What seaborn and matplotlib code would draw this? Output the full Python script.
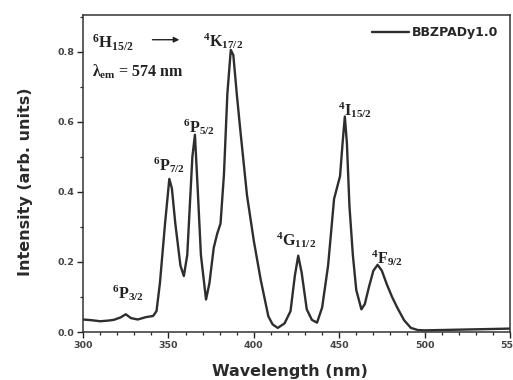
import matplotlib
matplotlib.use("Agg")
import matplotlib.pyplot as plt
from matplotlib.ticker import MultipleLocator
import seaborn as sns
import pandas as pd

wavelength = [300, 305, 310, 315, 318, 322, 325, 328, 332, 337, 341, 343, 345, 348,
              350.5, 352, 354, 357, 359, 361, 362.5, 364, 365.5, 367, 369, 372, 374,
              376.5, 378.5, 380.5, 382.5, 384.5, 386.5, 388, 390, 392, 396, 400, 404,
              408.5, 411, 414, 418, 421.5, 424, 426, 428, 431, 434, 437, 440, 443.5,
              447, 450.5, 452, 453.3, 454.5, 456, 458, 460, 463, 465, 467.5, 470,
              472.5, 475, 478, 481, 484, 488, 492, 496, 500, 510, 520, 530, 540, 550]
intensity = [0.036, 0.034, 0.031, 0.033, 0.035, 0.042, 0.051, 0.040, 0.036, 0.043,
             0.046, 0.060, 0.14, 0.31, 0.437, 0.41, 0.31, 0.19, 0.16, 0.22, 0.36,
             0.50, 0.563, 0.42, 0.22, 0.093, 0.14, 0.24, 0.28, 0.31, 0.45, 0.68,
             0.805, 0.79, 0.68, 0.58, 0.39, 0.26, 0.15, 0.045, 0.022, 0.012, 0.025,
             0.06, 0.16, 0.218, 0.17, 0.065, 0.035, 0.027, 0.07, 0.19, 0.38, 0.445,
             0.54, 0.615, 0.54, 0.36, 0.22, 0.12, 0.065, 0.08, 0.13, 0.175, 0.192,
             0.175, 0.135, 0.10, 0.07, 0.034, 0.012, 0.006, 0.005, 0.006, 0.007,
             0.008, 0.009, 0.010]
series_name = "BBZPADy1.0"

peak_labels = [r"$^{6}\mathrm{P}_{3/2}$", r"$^{6}\mathrm{P}_{7/2}$", r"$^{6}\mathrm{P}_{5/2}$",
               r"$^{4}\mathrm{K}_{17/2}$", r"$^{4}\mathrm{G}_{11/2}$", r"$^{4}\mathrm{I}_{15/2}$",
               r"$^{4}\mathrm{F}_{9/2}$"]
label_x = [326, 350, 368, 382, 425, 459, 478]
label_y = [0.11, 0.477, 0.586, 0.83, 0.263, 0.634, 0.211]

sns.set_theme(style="ticks")
plt.rcParams["mathtext.fontset"] = "custom"
plt.rcParams["mathtext.rm"] = "Liberation Serif:bold"
plt.rcParams["mathtext.it"] = "Liberation Serif:bold"
plt.rcParams["mathtext.bf"] = "Liberation Serif:bold"
plt.rcParams["font.family"] = ["DejaVu Sans"]

df = pd.DataFrame({"Wavelength": wavelength, "Intensity": intensity})

fig = plt.figure(figsize=(5.13, 3.8), dpi=100)
ax = fig.add_axes([0.162, 0.126, 0.832, 0.835])
sns.lineplot(data=df, x="Wavelength", y="Intensity", ax=ax, color="#2e2e2e",
             linewidth=1.7, label=series_name)

ax.set_xlim(300, 550)
ax.set_ylim(0, 0.905)
ax.xaxis.set_minor_locator(MultipleLocator(10))
ax.yaxis.set_minor_locator(MultipleLocator(0.1))
ax.set_xticks([300, 350, 400, 450, 500, 550])
ax.set_xticklabels(["300", "350", "400", "450", "500", "550"])
ax.set_yticks([0, 0.2, 0.4, 0.6, 0.8])
ax.set_yticklabels(["0.0", "0.2", "0.4", "0.6", "0.8"])
ax.tick_params(axis="both", which="major", direction="out", length=4, width=1.0,
               labelsize=6.8, colors="#222222", pad=2.5)
ax.tick_params(axis="both", which="minor", direction="out", length=2.5, width=0.9)
for lab in ax.get_xticklabels() + ax.get_yticklabels():
    lab.set_fontweight("bold")
    lab.set_color("#444444")
for s in ax.spines.values():
    s.set_linewidth(1.1)
    s.set_color("#333333")

ax.set_xlabel("Wavelength (nm)", fontsize=11.5, fontweight="bold",
              color="#2a2a2a")
ax.set_ylabel("Intensity (arb. units)", fontsize=11.5, fontweight="bold",
              color="#2a2a2a")
ax.xaxis.set_label_coords(0.484, -0.1)
ax.yaxis.set_label_coords(-0.118, 0.475)

for t, x, y in zip(peak_labels, label_x, label_y):
    ax.text(x, y, t, ha="center", va="center", fontsize=11.5, color="#222222")

ax.text(305, 0.826, r"$^{6}\mathrm{H}_{15/2}$", ha="left", va="center", fontsize=12,
        color="#222222")
ax.annotate("", xy=(358, 0.834), xytext=(339, 0.834),
            arrowprops=dict(arrowstyle="-|>", color="#222222", lw=1.0,
                            mutation_scale=8))
ax.text(305, 0.743, r"$\lambda_{\mathrm{em}}$ = 574 nm", ha="left", va="center",
        fontsize=11.5, color="#222222", family="Liberation Serif", fontweight="bold")

leg = ax.legend(loc="upper right", frameon=False, handlelength=2.9,
                borderaxespad=0.5, handletextpad=0.3,
                prop={"weight": "bold", "size": 9})

fig.savefig("out.png", dpi=100)
